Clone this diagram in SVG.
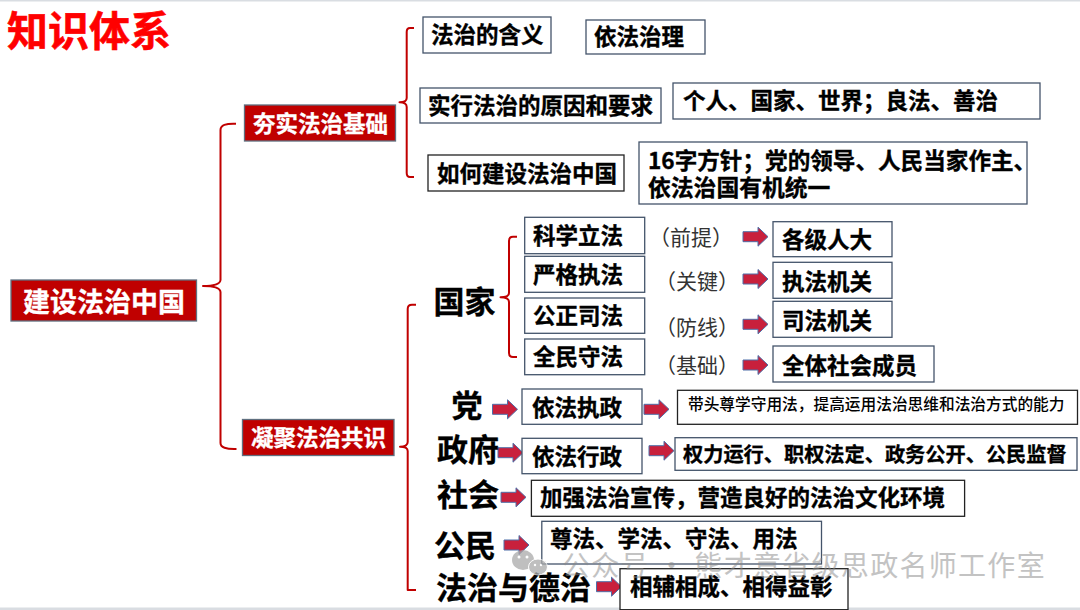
<svg xmlns="http://www.w3.org/2000/svg" width="1080" height="610" viewBox="0 0 1080 610">
<defs>
<style>
text{font-family:"Noto Sans CJK SC","Noto Sans",sans-serif;fill:#000;font-weight:700;stroke:#000;stroke-width:.35}
.w{fill:#fff;stroke:#fff;stroke-width:.3}
.red{fill:#f00;stroke:#f00;stroke-width:.6}
.b{fill:#fff;stroke:#44546a;stroke-width:1.3}
.k{fill:#fff;stroke:#222;stroke-width:1.3}
.r{fill:#c00000;stroke:#5f6f7f;stroke-width:1.3}
.s{font-weight:400;font-size:21px;fill:#333;stroke:none}
.m{font-weight:500;font-size:15.7px;stroke:none}
.t23{font-size:22.5px}
.t31{font-size:31px}
.wm{font-weight:400;font-size:28px;letter-spacing:1.3px;fill:#888;stroke:none}
.c{fill:none;stroke:#c00000;stroke-width:2;stroke-linejoin:round}
.a{fill:#c8203c;stroke:#4f6fa8;stroke-width:1}
</style>
<path id="ar" d="M0-5H15V-9.5L25 0L15 9.5V5H0Z" class="a"/>
</defs>
<rect width="1080" height="610" fill="#fff"/>
<rect width="1080" height="1.5" fill="#d9dde2"/>
<rect y="607.5" width="1080" height="2.5" fill="#d9dde2"/>
<g id="connectors">
<path class="c" d="M236 123.7Q220.5 123 220.5 130V280Q220 286 203 286Q220 286 220.5 292V443Q220.5 449.5 236.5 449"/>
<path class="c" d="M414 28H410Q406.7 28 406.7 32V98Q406.7 102.3 399.5 102.3Q406.7 102.3 406.7 107V173Q406.7 177 410 177H414"/>
<path class="c" d="M517 236.7H513Q509 236.7 509 241V293Q509 297.3 500.5 297.3Q509 297.3 509 302V353Q509 357 513 357H517"/>
<path class="c" d="M416 304.7H412Q407.7 304.7 407.7 309V442Q407.7 446.7 400 446.7Q407.7 446.7 407.7 451V590H416"/>
<use href="#ar" x="743" y="236.7"/>
<use href="#ar" x="743" y="279"/>
<use href="#ar" x="743" y="324.3"/>
<use href="#ar" x="743" y="365"/>
<use href="#ar" x="492.5" y="409.3"/>
<use href="#ar" x="644" y="409.3"/>
<use href="#ar" x="498" y="452.7"/>
<use href="#ar" x="649" y="450.7"/>
<use href="#ar" x="501" y="497.3"/>
<use href="#ar" x="504" y="545"/>
<use href="#ar" x="596.5" y="586.7"/>
</g>
<g id="title"><text class="red" x="7" y="46" font-size="41">知识体系</text></g>
<g id="root"><rect class="r" x="11" y="280" width="185.5" height="41"/><text class="w" x="23" y="312" font-size="27">建设法治中国</text></g>
<g id="n-hangshi"><rect class="r" x="244.5" y="105" width="151" height="36"/><text class="w" x="253" y="132" font-size="22.5">夯实法治基础</text></g>
<g id="n-ningju"><rect class="r" x="242.5" y="419.5" width="151.5" height="36"/><text class="w" x="251" y="445.5" font-size="22.5">凝聚法治共识</text></g>
<g id="n1"><rect class="b" x="423" y="17" width="128" height="36"/><text class="t23" x="431" y="43">法治的含义</text></g>
<g id="n2"><rect class="b" x="586" y="20" width="119" height="34"/><text class="t23" x="594" y="45">依法治理</text></g>
<g id="n3"><rect class="b" x="420" y="88" width="241" height="35"/><text class="t23" x="428" y="114">实行法治的原因和要求</text></g>
<g id="n4"><rect class="b" x="673" y="83" width="367" height="36"/><text x="683" y="109" font-size="22.5">个人、国家、世界&#65307;良法、善治</text></g>
<g id="n5"><rect class="k" x="428" y="155" width="196" height="36"/><text class="t23" x="437" y="182">如何建设法治中国</text></g>
<g id="n6"><rect class="b" x="639" y="142" width="388" height="62"/><text x="648" y="168.5" font-size="22.6">16字方针&#65307;党的领导、人民当家作主、</text><text x="648" y="195.5" font-size="22.8">依法治国有机统一</text></g>
<g id="guojia"><text class="t31" x="433.5" y="313">国家</text></g>
<g id="n7"><rect class="b" x="524.7" y="217.3" width="120" height="36.4"/><text class="t23" x="533" y="244">科学立法</text></g>
<g id="n8"><rect class="b" x="524.7" y="256.3" width="120" height="36"/><text class="t23" x="533" y="283">严格执法</text></g>
<g id="n9"><rect class="b" x="524.7" y="298" width="120" height="35.3"/><text class="t23" x="533" y="324">公正司法</text></g>
<g id="n10"><rect class="b" x="524.7" y="339" width="120" height="35.7"/><text class="t23" x="533" y="365">全民守法</text></g>
<g id="l1"><text class="s" x="649" y="245">&#65288;前提&#65289;</text></g>
<g id="l2"><text class="s" x="655" y="288.5">&#65288;关键&#65289;</text></g>
<g id="l3"><text class="s" x="655" y="334.5">&#65288;防线&#65289;</text></g>
<g id="l4"><text class="s" x="655" y="372.5">&#65288;基础&#65289;</text></g>
<g id="n11"><rect class="b" x="773" y="221.7" width="119" height="35"/><text class="t23" x="782" y="248">各级人大</text></g>
<g id="n12"><rect class="b" x="773" y="262.3" width="119" height="36"/><text class="t23" x="782" y="290">执法机关</text></g>
<g id="n13"><rect class="b" x="773" y="301.3" width="119" height="36"/><text class="t23" x="782" y="329">司法机关</text></g>
<g id="n14"><rect class="b" x="773" y="346" width="161" height="36"/><text class="t23" x="782" y="374">全体社会成员</text></g>
<g id="dang"><text class="t31" x="451.5" y="417">党</text></g>
<g id="n15"><rect class="b" x="522" y="389" width="120" height="35.3"/><text class="t23" x="532" y="416">依法执政</text></g>
<g id="n16"><rect class="k" x="677.5" y="390.3" width="400" height="34"/><text class="m" x="688" y="410">带头尊学守用法&#65292;提高运用法治思维和法治方式的能力</text></g>
<g id="zhengfu"><text class="t31" x="437" y="461">政府</text></g>
<g id="n17"><rect class="b" x="522" y="438.3" width="120" height="35.4"/><text class="t23" x="532" y="465">依法行政</text></g>
<g id="n18"><rect class="b" x="675" y="437.7" width="402" height="32.6"/><text x="683" y="461.5" font-size="20.2">权力运行、职权法定、政务公开、公民监督</text></g>
<g id="shehui"><text class="t31" x="437" y="506">社会</text></g>
<g id="n19"><rect class="k" x="531.4" y="480.3" width="433.2" height="36"/><text x="540" y="506" font-size="22.5">加强法治宣传&#65292;营造良好的法治文化环境</text></g>
<g id="gongmin"><text class="t31" x="434" y="557">公民</text></g>
<g id="n20"><rect class="b" x="541.8" y="521.3" width="279.7" height="42.7"/><text class="t23" x="550" y="547">尊法、学法、守法、用法</text></g>
<g id="fazhi"><text class="t31" x="436" y="599">法治与德治</text></g>
<g id="n21"><rect class="k" x="620" y="568.7" width="228" height="41"/><text class="t23" x="630" y="595">相辅相成、相得益彰</text></g>
<g id="watermark">
<g opacity=".75">
<ellipse cx="523" cy="560" rx="11" ry="10" fill="#aaa"/>
<ellipse cx="538" cy="567" rx="9.5" ry="8" fill="#aaa" stroke="#fff"/>
<circle cx="519" cy="557" r="1.5" fill="#fff"/><circle cx="527" cy="557" r="1.5" fill="#fff"/>
<circle cx="535" cy="565" r="1.2" fill="#fff"/><circle cx="541" cy="565" r="1.2" fill="#fff"/>
</g>
<text class="wm" opacity=".5" x="562" y="576">公众号 · 熊才意省级思政名师工作室</text>
</g>
</svg>
